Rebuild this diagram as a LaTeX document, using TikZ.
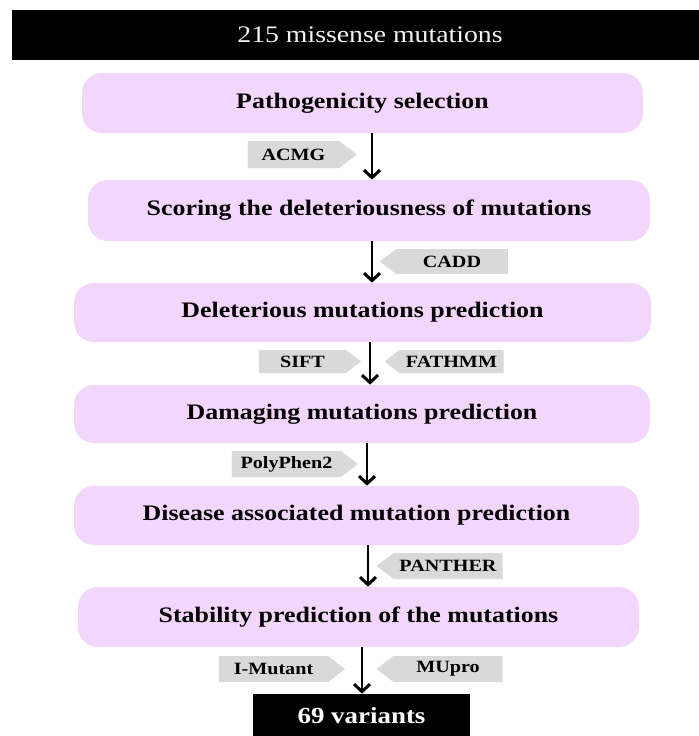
\documentclass[tikz,border=0pt]{standalone}
\usepackage{fontspec}
\setmainfont{Liberation Serif}[FakeStretch=1.17]
\usetikzlibrary{positioning, arrows.meta, shapes.symbols}
\definecolor{sPink}{HTML}{F3D6FB}
\definecolor{sTag}{HTML}{D9D9D9}
\definecolor{sLight}{HTML}{F2F2F2}

\begin{document}
\begin{tikzpicture}[
  stage/.style={fill=sPink, rounded corners=0.4cm, minimum height=1.2cm,
                font=\fontsize{12.6}{15}\selectfont\bfseries},
  tagR/.style={signal, signal to=east, signal pointer angle=75, fill=sTag,
               inner sep=0pt, minimum height=0.52cm,
               font=\fontsize{9.8}{11}\selectfont\bfseries},
  tagL/.style={tagR, signal to=west},
  headbar/.style={fill=black, text=sLight, minimum height=1cm,
                  font=\fontsize{13.5}{16}\selectfont},
  endbox/.style={fill=black, text=white, minimum height=0.88cm,
                 font=\fontsize{13.1}{16}\selectfont\bfseries},
  flow/.style={-{Straight Barb[length=1.5mm, width=3.2mm]}, line width=1.7pt},
]
  \useasboundingbox (0,0) rectangle (13.98,-14.72);
  \clip (0,0) rectangle (13.98,-14.72);

  % Input and output
  \node[headbar, minimum width=14.32cm] (top) at (7.40,-0.70) {215 missense mutations};
  \node[endbox, minimum width=4.34cm] (res) at (7.23,-14.32) {69 variants};

  % Filtering stages
  \node[stage, minimum width=11.22cm] (b1) at (7.25,-2.06) {Pathogenicity selection};
  \node[stage, minimum width=11.24cm, minimum height=1.22cm] (b2) at (7.38,-4.21) {Scoring the deleteriousness of mutations};
  \node[stage, minimum width=11.54cm, minimum height=1.18cm] (b3) at (7.25,-6.25) {Deleterious mutations prediction};
  \node[stage, minimum width=11.52cm, minimum height=1.16cm] (b4) at (7.24,-8.28) {Damaging mutations prediction};
  \node[stage, minimum width=11.30cm, minimum height=1.18cm] (b5) at (7.13,-10.31) {Disease associated mutation prediction};
  \node[stage, minimum width=11.22cm] (b6) at (7.17,-12.34) {Stability prediction of the mutations};

  \draw[flow] ([xshift=1.9mm]b1.south) -- ([xshift=1.9mm]b1.south |- b2.north);
  \draw[flow] ([xshift=0.6mm]b2.south) -- ([xshift=0.6mm]b2.south |- b3.north);
  \draw[flow] ([xshift=1.5mm]b3.south) -- ([xshift=1.5mm]b3.south |- b4.north);
  \draw[flow] ([xshift=1.0mm]b4.south) -- ([xshift=1.0mm]b4.south |- b5.north);
  \draw[flow] ([xshift=2.3mm]b5.south) -- ([xshift=2.3mm]b5.south |- b6.north);
  \draw[flow] ([xshift=0.7mm]b6.south) -- ([xshift=0.7mm]b6.south |- res.north);

  % Tools
  \node[tagR, minimum width=2.18cm, minimum height=0.54cm] (acmg) at (5.87,-3.09) {ACMG};
  \node[tagL, minimum width=2.56cm, minimum height=0.50cm] (cadd) at (9.04,-5.23) {CADD};
  \node[tagR, minimum width=2.04cm, minimum height=0.46cm] (sift) at (6.05,-7.23) {SIFT};
  \node[tagL, minimum width=2.38cm, minimum height=0.46cm] (fathmm) at (9.03,-7.23) {FATHMM};
  \node[tagR, minimum width=2.52cm] (poly) at (5.73,-9.28) {PolyPhen2};
  \node[tagL, minimum width=2.52cm] (panther) at (8.96,-11.32) {PANTHER};
  \node[tagR, minimum width=2.52cm] (imut) at (5.47,-13.38) {I-Mutant};
  \node[tagL, minimum width=2.52cm] (mupro) at (8.96,-13.38) {MUpro};
\end{tikzpicture}
\end{document}
